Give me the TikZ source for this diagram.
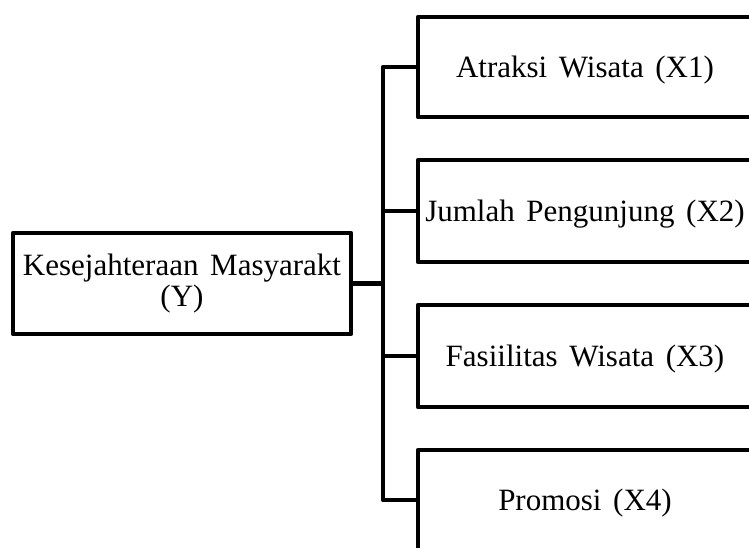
\documentclass[tikz,border=0pt]{standalone}
\usepackage{fontspec}
\setmainfont{Liberation Serif}[WordSpace=1.5]
\begin{document}
\begin{tikzpicture}[x=1pt,y=-1pt,
  box/.style={draw, line width=4.5pt, line join=round, inner sep=0pt,
    minimum width=334pt, minimum height=100pt,
    font=\fontsize{31}{31}\selectfont, text height=21pt, text depth=0pt},
  ybox/.style={draw, line width=4.5pt, line join=round, inner sep=0pt,
    minimum width=338pt, minimum height=101pt, align=center,
    font=\fontsize{31}{31}\selectfont},
  conn/.style={line width=4.5pt, line join=round}]
\useasboundingbox (0,0) rectangle (749,548);
\clip (0,0) rectangle (749,548);
\node[ybox] (Y) at (182,283.5) {Kesejahteraan Masyarakt\\(Y)};
\node[box] (X1) at (585,67) {Atraksi Wisata (X1)};
\node[box, minimum height=102pt] (X2) at (585,211) {Jumlah Pengunjung (X2)};
\node[box, minimum height=102pt] (X3) at (585,356) {Fasiilitas Wisata (X3)};
\node[box] (X4) at (585,500) {Promosi (X4)};
\coordinate (hub) at (383,283.5);
\draw[conn] (Y.east) -- (hub);
\draw[conn] (hub) |- (X1.west);
\draw[conn] (hub) |- (X2.west);
\draw[conn] (hub) |- (X3.west);
\draw[conn] (hub) |- (X4.west);
\end{tikzpicture}
\end{document}
